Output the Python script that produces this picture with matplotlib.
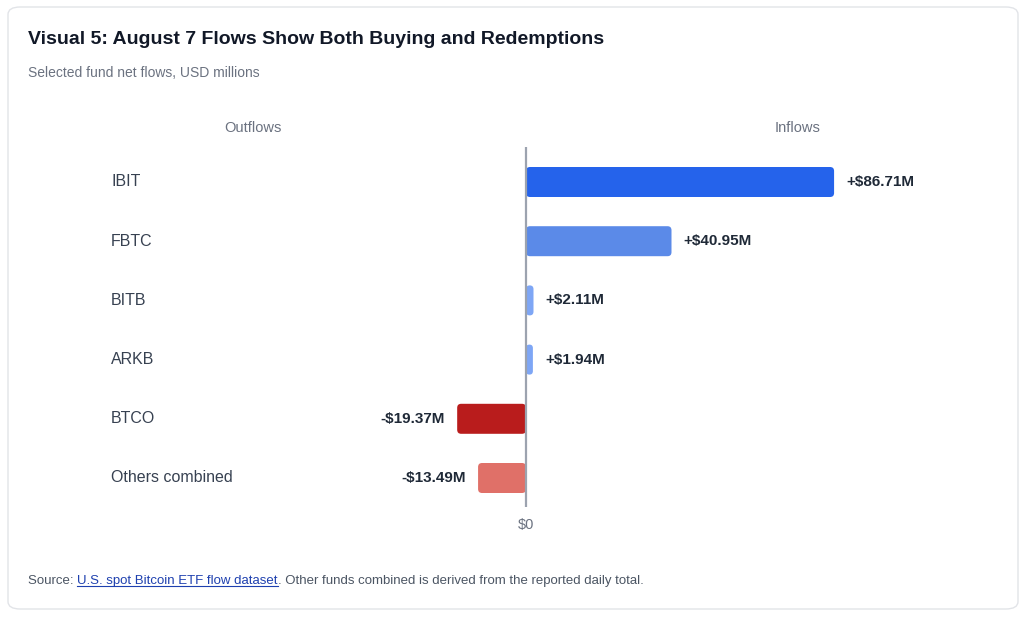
import matplotlib
matplotlib.use("Agg")
import matplotlib.pyplot as plt
from matplotlib.patches import FancyBboxPatch
from matplotlib.lines import Line2D

plt.rcParams['font.family'] = ['Liberation Sans', 'DejaVu Sans']

funds = ["IBIT", "FBTC", "BITB", "ARKB", "BTCO", "Others combined"]
flows = [86.71, 40.95, 2.11, 1.94, -19.37, -13.49]
labels = ["+$86.71M", "+$40.95M", "+$2.11M", "+$1.94M", "-$19.37M", "-$13.49M"]
colors = ["#2563eb", "#5b8ae8", "#7ea6f5", "#7ea6f5", "#b91c1c", "#e07068"]

W, H = 1024, 617
fig = plt.figure(figsize=(W / 100, H / 100), dpi=100)
fig.patch.set_facecolor("white")

# card
card = FancyBboxPatch((8 / W, 8 / H), 1010 / W, 602 / H, transform=fig.transFigure,
                      boxstyle="round,pad=0,rounding_size=0.012", facecolor="none",
                      edgecolor="#e2e4e8", linewidth=1, zorder=-1)
fig.patches.append(card)

px = 3.553  # pixels per million
zero_px = 526
ax_l, ax_r = 100, 1000
ax_t, ax_b = 147, 507
ax = fig.add_axes([ax_l / W, 1 - ax_b / H, (ax_r - ax_l) / W, (ax_b - ax_t) / H])
ax.set_xlim((ax_l - zero_px) / px, (ax_r - zero_px) / px)
row = 59.2
ax.set_ylim((ax_b - 182) / row, (ax_t - 182) / row)
ax.axis("off")

bar_h = 30 / row
xr = 4 / px
asp = (1 / row) / (1 / px)
for i, (v, c, lab) in enumerate(zip(flows, colors, labels)):
    x0 = min(0, v)
    ax.add_patch(FancyBboxPatch((x0, i - bar_h / 2), abs(v), bar_h,
                                boxstyle=f"round,pad=0,rounding_size={min(xr, abs(v) / 2)}",
                                mutation_aspect=asp, facecolor=c, edgecolor="none"))
    off = 12 / px
    if v >= 0:
        ax.text(v + off, i, lab, ha="left", va="center", fontsize=11, fontweight="bold", color="#1f2937")
    else:
        ax.text(v - off, i, lab, ha="right", va="center", fontsize=11, fontweight="bold", color="#1f2937")
    ax.text((111 - zero_px) / px, i, funds[i], ha="left", va="center", fontsize=11.5, color="#374151")

ax.axvline(0, color="#9ca3af", linewidth=1.6)

fig.text(28 / W, 1 - 40 / H, "Visual 5: August 7 Flows Show Both Buying and Redemptions",
         fontsize=14, fontweight="bold", color="#111827", va="center")
fig.text(28 / W, 1 - 73 / H, "Selected fund net flows, USD millions", fontsize=10,
         color="#6b7280", va="center")
fig.text(253 / W, 1 - 128 / H, "Outflows", fontsize=10.5, color="#6b7280", ha="center", va="center")
fig.text(798 / W, 1 - 128 / H, "Inflows", fontsize=10.5, color="#6b7280", ha="center", va="center")
fig.text(zero_px / W, 1 - 525 / H, "$0", fontsize=10.5, color="#6b7280", ha="center", va="center")

# source line with link
fig.canvas.draw()
r = fig.canvas.get_renderer()
y = 1 - 581 / H
t1 = fig.text(28 / W, y, "Source: ", fontsize=9.5, color="#4b5563", va="center")
x = t1.get_window_extent(r).x1 / W
t2 = fig.text(x, y, "U.S. spot Bitcoin ETF flow dataset", fontsize=9.5, color="#1e40af", va="center")
bb = t2.get_window_extent(r)
fig.add_artist(Line2D([bb.x0 / W, bb.x1 / W], [(bb.y0 + 1) / H] * 2, color="#1e40af", linewidth=0.8))
fig.text(bb.x1 / W, y, ". Other funds combined is derived from the reported daily total.",
         fontsize=9.5, color="#4b5563", va="center")

fig.savefig("out.png", dpi=100)
